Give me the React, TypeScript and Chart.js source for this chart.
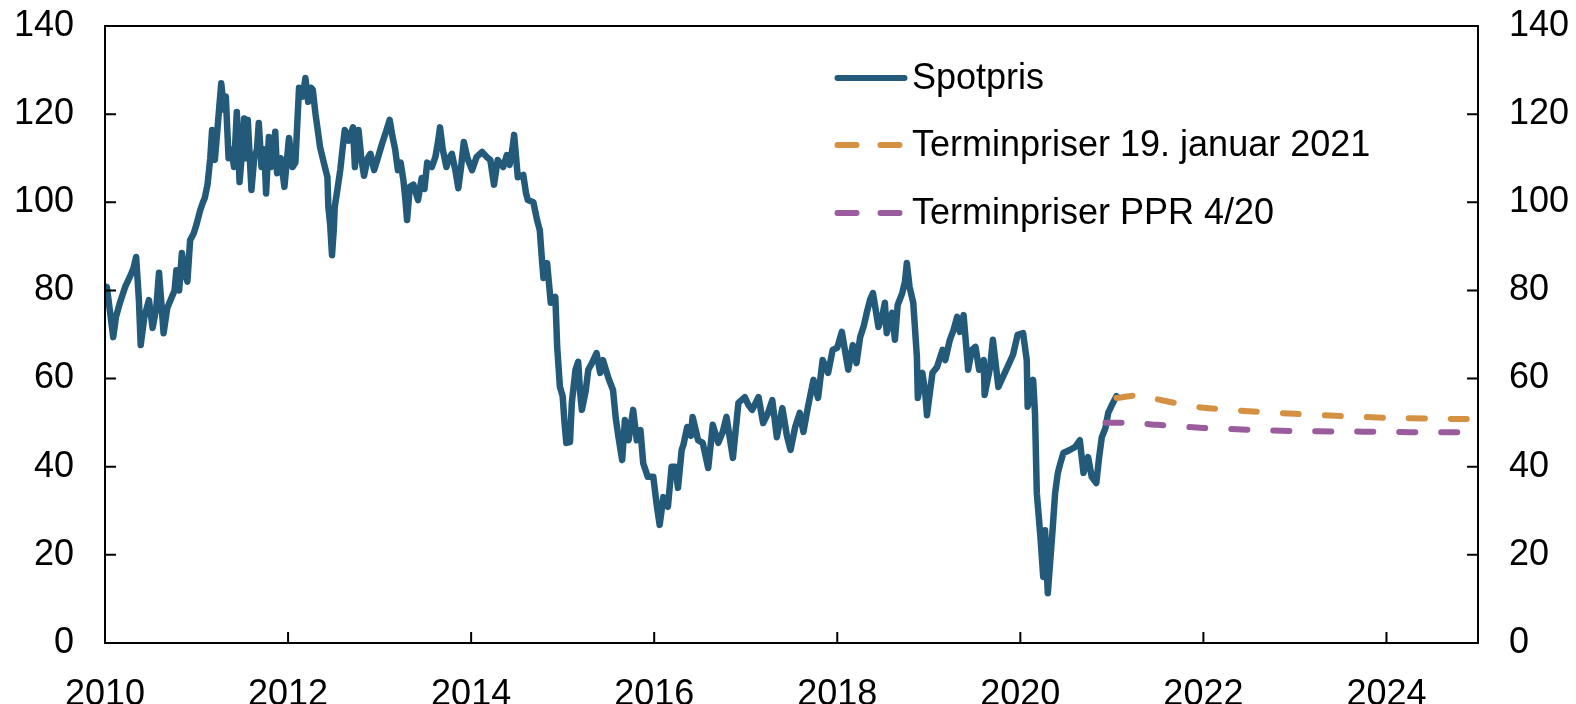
import React, { useEffect, useRef } from "react";
import { Chart, registerables } from "chart.js";

Chart.register(...registerables);

// ---- Data ----
const spotYears = [
  2010.0, 2010.02, 2010.05, 2010.09, 2010.12, 2010.16, 2010.22, 2010.27, 2010.31, 2010.34,
  2010.37, 2010.39, 2010.43, 2010.48, 2010.52, 2010.56, 2010.59, 2010.62, 2010.64, 2010.68,
  2010.72, 2010.76, 2010.78, 2010.81, 2010.84, 2010.87, 2010.9, 2010.93, 2010.97, 2011.0,
  2011.04, 2011.07, 2011.09, 2011.12, 2011.15, 2011.17, 2011.2, 2011.23, 2011.27, 2011.3,
  2011.32, 2011.35, 2011.38, 2011.41, 2011.44, 2011.47, 2011.5, 2011.52, 2011.54, 2011.56,
  2011.6, 2011.63, 2011.66, 2011.68, 2011.71, 2011.74, 2011.76, 2011.79, 2011.82, 2011.86,
  2011.88, 2011.92, 2011.96, 2012.01, 2012.05, 2012.08, 2012.12, 2012.16, 2012.19, 2012.22,
  2012.25, 2012.27, 2012.3, 2012.32, 2012.35, 2012.39, 2012.43, 2012.44, 2012.46, 2012.48,
  2012.5, 2012.51, 2012.54, 2012.57, 2012.6, 2012.62, 2012.66, 2012.71, 2012.73, 2012.77,
  2012.8, 2012.83, 2012.87, 2012.9, 2012.94, 2012.98, 2013.03, 2013.07, 2013.11, 2013.14,
  2013.17, 2013.2, 2013.23, 2013.26, 2013.28, 2013.3, 2013.33, 2013.37, 2013.42, 2013.46,
  2013.49, 2013.52, 2013.57, 2013.61, 2013.64, 2013.66, 2013.69, 2013.73, 2013.76, 2013.79,
  2013.83, 2013.86, 2013.89, 2013.92, 2013.96, 2014.01, 2014.06, 2014.12, 2014.17, 2014.21,
  2014.25, 2014.29, 2014.35, 2014.39, 2014.42, 2014.45, 2014.47, 2014.51, 2014.57, 2014.6,
  2014.62, 2014.68, 2014.72, 2014.75, 2014.77, 2014.79, 2014.83, 2014.87, 2014.92, 2014.94,
  2014.97, 2015.0, 2015.02, 2015.04, 2015.08, 2015.1, 2015.14, 2015.17, 2015.19, 2015.21,
  2015.25, 2015.28, 2015.32, 2015.37, 2015.41, 2015.44, 2015.5, 2015.55, 2015.58, 2015.61,
  2015.65, 2015.68, 2015.72, 2015.77, 2015.81, 2015.85, 2015.88, 2015.93, 2015.99, 2016.03,
  2016.06, 2016.1, 2016.15, 2016.19, 2016.23, 2016.26, 2016.3, 2016.32, 2016.36, 2016.4,
  2016.42, 2016.48, 2016.53, 2016.59, 2016.64, 2016.7, 2016.75, 2016.79, 2016.86, 2016.92,
  2016.99, 2017.03, 2017.07, 2017.14, 2017.19, 2017.24, 2017.29, 2017.34, 2017.4, 2017.45,
  2017.49, 2017.54, 2017.59, 2017.63, 2017.68, 2017.74, 2017.79, 2017.84, 2017.9, 2017.95,
  2018.0, 2018.05, 2018.12, 2018.17, 2018.21, 2018.25, 2018.29, 2018.33, 2018.36, 2018.39,
  2018.45, 2018.49, 2018.52, 2018.54, 2018.6, 2018.63, 2018.66, 2018.71, 2018.74, 2018.76,
  2018.79, 2018.83, 2018.87, 2018.88, 2018.93, 2018.96, 2018.98, 2019.04, 2019.09, 2019.15,
  2019.18, 2019.23, 2019.27, 2019.31, 2019.34, 2019.38, 2019.43, 2019.47, 2019.51, 2019.55,
  2019.6, 2019.61, 2019.67, 2019.7, 2019.76, 2019.81, 2019.87, 2019.92, 2019.97, 2020.03,
  2020.07, 2020.08, 2020.12, 2020.14, 2020.16, 2020.18, 2020.22, 2020.25, 2020.27, 2020.3,
  2020.35, 2020.38, 2020.41, 2020.44, 2020.47, 2020.54, 2020.6, 2020.65, 2020.69, 2020.74,
  2020.78, 2020.83, 2020.86, 2020.89, 2020.93, 2020.96, 2021.0, 2021.05,
];

const spotPrices = [
  79, 80.8, 76, 69.4, 74, 77, 80.8, 83, 85, 87.6,
  78, 67.6, 74, 77.8, 71.5, 76, 84, 76, 70.3, 76,
  78, 80, 84.6, 80, 88.5, 84, 82, 91.4, 93, 95,
  98.2, 100, 101, 104, 110, 116.4, 109.6, 117, 127, 121,
  124, 110, 112, 108, 120.5, 104.6, 112, 119, 110, 118.7,
  102.8, 110, 112, 118, 108, 112, 102, 114.8, 108, 116,
  106.6, 110, 103.5, 114.6, 108, 109, 126, 124, 128.2, 122.8,
  126, 125.5, 120, 117, 112.5, 109, 105.7, 99, 95, 88,
  94, 99, 103, 107.3, 113, 116.4, 114, 117, 108, 116.4,
  110, 106, 110, 111, 107.3, 110, 113.5, 116, 118.7, 115,
  112, 107.3, 109, 105, 101, 96, 103.5, 104, 100.5, 105.5,
  103, 109, 108, 110.3, 114, 117, 112, 108, 110, 111,
  107, 103.2, 108, 113.7, 110, 107.3, 110.3, 111.4, 110.3, 109.6,
  104, 109.6, 108, 110.7, 108.5, 112, 115.3, 105.7, 106.2, 102,
  100.5, 100, 96, 93.7, 88, 82.8, 86.2, 77.2, 78.5, 67.2,
  58.1, 56, 50, 45.4, 45.6, 54.5, 62, 63.8, 57, 52.9,
  57, 62, 63.5, 65.8, 61.3, 64.2, 60.1, 57.4, 51, 46.7,
  41.5, 50.6, 46, 52.9, 46, 48.3, 40.8, 37.7, 37.7, 30.9,
  26.8, 33.1, 30.9, 40, 40, 35.2, 43.8, 45, 49, 47,
  51.3, 46, 45.4, 39.7, 49.5, 45.4, 48, 51.3, 42, 54.5,
  55.8, 54, 52.9, 55.8, 49.9, 52, 55.1, 46.7, 53.3, 47,
  43.8, 49, 52.2, 47.9, 53.6, 59.7, 55.6, 64.2, 61.3, 66.5,
  67, 70.6, 62, 67.6, 63.5, 69.4, 72, 75.6, 78, 79.4,
  71.7, 74, 77.2, 70.3, 74.9, 68.8, 76.7, 79.4, 82, 86.2,
  80.8, 77.2, 64.9, 55.6, 61.3, 57, 51.7, 61.3, 62.6, 66.5,
  64.2, 68.8, 71, 74, 70.6, 74.4, 62, 66.5, 67.2, 62,
  64.2, 56.3, 62.6, 68.8, 58.1, 60.4, 63.1, 65.4, 69.9, 70.3,
  64.2, 53.6, 57, 59.7, 52.2, 34, 24, 15, 25.6, 11.3,
  25, 34, 38.6, 41, 43.1, 43.8, 44.5, 46, 38.6, 42.2,
  37.7, 36.3, 42, 46.7, 48.8, 52.2, 54, 56,
];

const fwdJanYears = [2021.05, 2021.3, 2021.5, 2021.75, 2022.0, 2022.5, 2023.0, 2023.5, 2024.0, 2024.5, 2025.0];
const fwdJanPrices = [55.6, 56.2, 55.3, 54.2, 53.4, 52.6, 52.0, 51.5, 51.1, 50.9, 50.8];

const fwdPprYears = [2020.93, 2021.25, 2021.5, 2022.0, 2022.5, 2023.0, 2023.5, 2024.0, 2024.5, 2025.0];
const fwdPprPrices = [50.0, 49.9, 49.5, 48.8, 48.4, 48.1, 48.0, 47.9, 47.8, 47.8];

const xTickYears = [2010, 2012, 2014, 2016, 2018, 2020, 2022, 2024];
const yTickValues = [0, 20, 40, 60, 80, 100, 120, 140];
const seriesLabels = ["Spotpris", "Terminpriser 19. januar 2021", "Terminpriser PPR 4/20"];

const FONT = '"Liberation Sans", Arial, Helvetica, sans-serif';
const BLUE = "#235a7a";
const ORANGE = "#d59142";
const PURPLE = "#9b5c9d";

const zip = (xs: number[], ys: number[]) => xs.map((x, i) => ({ x, y: ys[i] }));

const framePlugin = {
  id: "frameTicks",
  afterDatasetsDraw(chart: any) {
    const { ctx, chartArea, scales } = chart;
    const { left, right, top, bottom } = chartArea;
    const tl = 11;
    ctx.save();
    ctx.strokeStyle = "#000";
    ctx.lineWidth = 2;
    ctx.beginPath();
    ctx.rect(left, top, right - left, bottom - top);
    scales.x.ticks.forEach((t: any) => {
      const px = scales.x.getPixelForValue(t.value);
      ctx.moveTo(px, bottom);
      ctx.lineTo(px, bottom - tl);
    });
    scales.y.ticks.forEach((t: any) => {
      const py = scales.y.getPixelForValue(t.value);
      ctx.moveTo(left, py);
      ctx.lineTo(left + tl, py);
    });
    scales.y2.ticks.forEach((t: any) => {
      const py = scales.y2.getPixelForValue(t.value);
      ctx.moveTo(right, py);
      ctx.lineTo(right - tl, py);
    });
    ctx.stroke();
    ctx.restore();
  },
};

const legendPlugin = {
  id: "insideLegend",
  afterDraw(chart: any) {
    const { ctx } = chart;
    const rows = [78, 145, 213];
    const x0 = 837.5;
    const x1 = 904.5;
    ctx.save();
    chart.data.datasets.forEach((ds: any, i: number) => {
      const y = rows[i];
      ctx.beginPath();
      ctx.strokeStyle = ds.borderColor;
      ctx.lineWidth = 6;
      ctx.lineCap = "round";
      ctx.setLineDash(ds.borderDash && ds.borderDash.length ? [19, 24] : []);
      ctx.moveTo(x0, y);
      ctx.lineTo(x1, y);
      ctx.stroke();
      ctx.setLineDash([]);
      ctx.fillStyle = "#000";
      ctx.font = `36px ${FONT}`;
      ctx.textBaseline = "middle";
      ctx.textAlign = "left";
      ctx.fillText(seriesLabels[i], 912, y + 1);
    });
    ctx.restore();
  },
};

const fixVertical = (width: number) => (scale: any) => {
  scale.width = width;
  scale.paddingTop = 0;
  scale.paddingBottom = 0;
};

export default function App() {
  const canvasRef = useRef<HTMLCanvasElement | null>(null);

  useEffect(() => {
    document.body.style.margin = "0";
    document.documentElement.style.overflow = "hidden";
    const canvas = canvasRef.current;
    if (!canvas) return;

    const tickFont = { family: FONT, size: 36 };

    const chart = new Chart(canvas, {
      type: "line",
      data: {
        datasets: [
          {
            label: seriesLabels[0],
            data: zip(spotYears, spotPrices),
            borderColor: BLUE,
            borderWidth: 6.5,
            pointRadius: 0,
            borderJoinStyle: "round",
            borderCapStyle: "round",
            tension: 0,
            order: 2,
          },
          {
            label: seriesLabels[1],
            data: zip(fwdJanYears, fwdJanPrices),
            borderColor: ORANGE,
            borderWidth: 6,
            borderDash: [16, 26],
            borderCapStyle: "round",
            pointRadius: 0,
            tension: 0.3,
            order: 1,
          },
          {
            label: seriesLabels[2],
            data: zip(fwdPprYears, fwdPprPrices),
            borderColor: PURPLE,
            borderWidth: 6,
            borderDash: [16, 26],
            borderCapStyle: "round",
            pointRadius: 0,
            tension: 0.3,
            order: 0,
          },
        ],
      },
      options: {
        animation: false,
        responsive: false,
        devicePixelRatio: 1,
        layout: { padding: { top: 26, left: 0, right: 0, bottom: 0 } },
        plugins: {
          legend: { display: false },
          tooltip: { enabled: false },
        },
        scales: {
          x: {
            type: "linear",
            position: "bottom",
            min: 2010,
            max: 2025,
            afterBuildTicks: (scale: any) => {
              scale.ticks = xTickYears.map((v) => ({ value: v }));
            },
            afterFit: (scale: any) => {
              scale.height = 61;
            },
            grid: { display: false, drawTicks: false },
            border: { display: false },
            ticks: {
              font: tickFont,
              color: "#000",
              padding: 30,
              maxRotation: 0,
              autoSkip: false,
              callback: (v: any) => String(v),
            },
          },
          y: {
            type: "linear",
            position: "left",
            min: 0,
            max: 140,
            afterBuildTicks: (scale: any) => {
              scale.ticks = yTickValues.map((v) => ({ value: v }));
            },
            afterFit: fixVertical(105),
            grid: { display: false, drawTicks: false },
            border: { display: false },
            ticks: {
              font: tickFont,
              color: "#000",
              padding: 31,
              autoSkip: false,
              callback: (v: any) => String(v),
            },
          },
          y2: {
            type: "linear",
            position: "right",
            min: 0,
            max: 140,
            afterBuildTicks: (scale: any) => {
              scale.ticks = yTickValues.map((v) => ({ value: v }));
            },
            afterFit: fixVertical(98),
            grid: { display: false, drawTicks: false },
            border: { display: false },
            ticks: {
              font: tickFont,
              color: "#000",
              padding: 31,
              autoSkip: false,
              callback: (v: any) => String(v),
            },
          },
        },
      },
      plugins: [framePlugin, legendPlugin],
    } as any);

    return () => {
      chart.destroy();
    };
  }, []);

  return (
    <div style={{ width: 1576, height: 704, overflow: "hidden" }}>
      <canvas ref={canvasRef} width={1576} height={704} style={{ display: "block" }} />
    </div>
  );
}
